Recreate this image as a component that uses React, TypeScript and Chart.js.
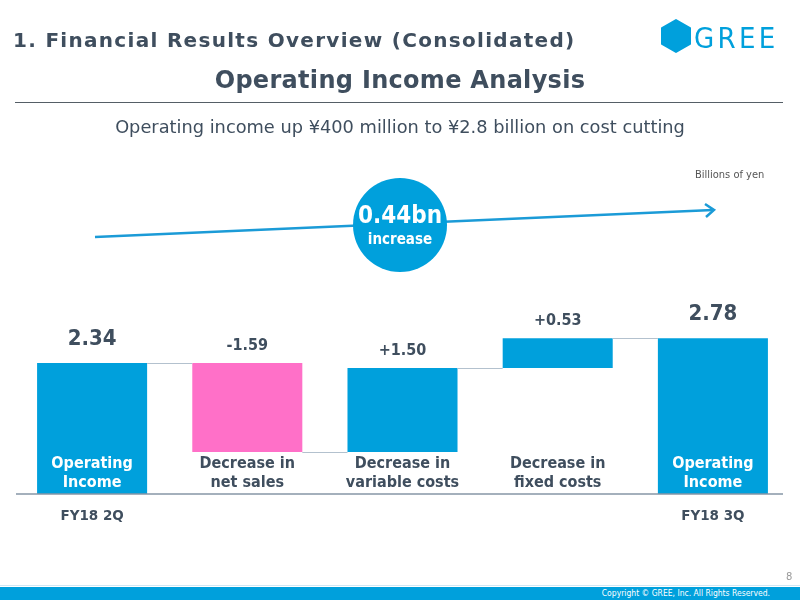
import React, { useEffect, useRef } from "react";
import { Chart, registerables } from "chart.js";

Chart.register(...registerables);

// Waterfall steps, billions of yen
const categories: string[][] = [
  ["Operating", "Income"],
  ["Decrease in", "net sales"],
  ["Decrease in", "variable costs"],
  ["Decrease in", "fixed costs"],
  ["Operating", "Income"],
];
const periods = ["FY18 2Q", "", "", "", "FY18 3Q"];
const openingIncome = 2.34;
const changes = [-1.59, 1.5, 0.53];
const closingIncome = 2.78;
const valueLabels = ["2.34", "-1.59", "+1.50", "+0.53", "2.78"];
const isTotal = [true, false, false, false, true];

const BLUE = "#00a0dc";
const PINK = "#ff70c8";
const TEXT = "#3f4e5e";
const FONT = "'DejaVu Sans', Verdana, sans-serif";
const FONT_C = "'DejaVu Sans Condensed', 'DejaVu Sans', sans-serif";

function buildRanges(): [number, number][] {
  const ranges: [number, number][] = [[0, openingIncome]];
  let level = openingIncome;
  for (const c of changes) {
    const next = Math.round((level + c) * 100) / 100;
    ranges.push([level, next]);
    level = next;
  }
  ranges.push([0, closingIncome]);
  return ranges;
}

const waterfallDecor = {
  id: "waterfallDecor",
  beforeDatasetsDraw(chart: any) {
    const { ctx } = chart;
    // growth arrow with the increase badge
    ctx.save();
    ctx.strokeStyle = "#1b9bd7";
    ctx.lineWidth = 2.5;
    ctx.beginPath();
    ctx.moveTo(95, 237);
    ctx.lineTo(713, 210);
    ctx.stroke();
    ctx.beginPath();
    ctx.moveTo(705, 204);
    ctx.lineTo(714, 210);
    ctx.lineTo(706, 217);
    ctx.stroke();
    ctx.fillStyle = BLUE;
    ctx.beginPath();
    ctx.arc(400, 225, 47, 0, Math.PI * 2);
    ctx.fill();
    ctx.fillStyle = "#ffffff";
    ctx.textAlign = "center";
    ctx.textBaseline = "middle";
    ctx.font = `bold 24px ${FONT_C}`;
    const inc = (closingIncome - openingIncome).toFixed(2);
    ctx.fillText(`${inc}bn`, 400, 217);
    ctx.font = `bold 15px ${FONT_C}`;
    ctx.fillText("increase", 400, 240);
    ctx.restore();
  },
  afterDatasetsDraw(chart: any) {
    const { ctx, scales } = chart;
    const y = scales.y;
    const bars = chart.getDatasetMeta(0).data;
    const ranges = chart.data.datasets[0].data as [number, number][];
    const zero = y.getPixelForValue(0);
    ctx.save();
    // connectors between consecutive steps
    ctx.strokeStyle = "#b3c1ce";
    ctx.lineWidth = 1;
    for (let i = 0; i < bars.length - 1; i++) {
      const py = Math.round(y.getPixelForValue(ranges[i][1])) + 0.5;
      ctx.beginPath();
      ctx.moveTo(bars[i].x + bars[i].width / 2, py);
      ctx.lineTo(bars[i + 1].x - bars[i + 1].width / 2, py);
      ctx.stroke();
    }
    // baseline
    ctx.strokeStyle = "#8696a6";
    ctx.lineWidth = 1.5;
    ctx.beginPath();
    ctx.moveTo(16, zero);
    ctx.lineTo(783, zero);
    ctx.stroke();

    ctx.textAlign = "center";
    ctx.textBaseline = "middle";
    bars.forEach((bar: any, i: number) => {
      const top = Math.min(bar.y, bar.base);
      ctx.fillStyle = TEXT;
      if (isTotal[i]) {
        ctx.font = `bold 22px ${FONT_C}`;
        ctx.fillText(valueLabels[i], bar.x, top - 24);
      } else {
        ctx.font = `bold 16px ${FONT_C}`;
        ctx.fillText(valueLabels[i], bar.x, top - 17);
      }
      ctx.font = `bold 16px ${FONT_C}`;
      ctx.fillStyle = isTotal[i] ? "#ffffff" : TEXT;
      ctx.fillText(categories[i][0], bar.x, zero - 30);
      ctx.fillText(categories[i][1], bar.x, zero - 11);
      if (periods[i]) {
        ctx.fillStyle = TEXT;
        ctx.font = `bold 13.5px ${FONT}`;
        ctx.fillText(periods[i], bar.x, zero + 22);
      }
    });
    ctx.restore();
  },
};

export default function App() {
  const canvasRef = useRef<HTMLCanvasElement | null>(null);

  useEffect(() => {
    const canvas = canvasRef.current;
    if (!canvas) return;
    const ranges = buildRanges();
    const chart = new Chart(canvas, {
      type: "bar",
      data: {
        labels: categories.map((c) => c.join(" ")),
        datasets: [
          {
            data: ranges as any,
            backgroundColor: ranges.map((r) => (r[1] < r[0] ? PINK : BLUE)),
            borderWidth: 0,
            borderSkipped: false,
            categoryPercentage: 1,
            barPercentage: 0.709,
          },
        ],
      },
      options: {
        responsive: false,
        animation: false,
        events: [],
        layout: { padding: { left: 14.5, right: 9.5, top: 298, bottom: 106 } },
        plugins: {
          legend: { display: false },
          tooltip: { enabled: false },
          title: { display: false },
        },
        scales: {
          x: { display: false, grid: { display: false } },
          y: { display: false, min: 0, max: 3.5, grid: { display: false } },
        },
      },
      plugins: [waterfallDecor],
    });
    return () => chart.destroy();
  }, []);

  return (
    <div
      style={{
        position: "fixed",
        left: 0,
        top: 0,
        width: 800,
        height: 600,
        background: "#ffffff",
        fontFamily: FONT,
        color: TEXT,
        overflow: "hidden",
      }}
    >
      <canvas
        ref={canvasRef}
        width={800}
        height={600}
        style={{ position: "absolute", left: 0, top: 0, width: 800, height: 600 }}
      />
      <div
        style={{
          position: "absolute",
          left: 13,
          top: 28,
          fontSize: 20,
          fontWeight: "bold",
          letterSpacing: 1.3,
          whiteSpace: "nowrap",
        }}
      >
        1. Financial Results Overview (Consolidated)
      </div>
      <svg
        style={{ position: "absolute", left: 658, top: 18 }}
        width={125}
        height={36}
        viewBox="0 0 125 36"
      >
        <polygon points="18,2 32,10 32,26 18,34 4,26 4,10" fill={BLUE} stroke={BLUE} strokeWidth={2} strokeLinejoin="round" />
        <text x={36} y={30} fill={BLUE} fontFamily="'DejaVu Sans Condensed', Roboto, sans-serif" fontSize={29} letterSpacing={3.3}>
          GREE
        </text>
      </svg>
      <div
        style={{
          position: "absolute",
          left: 0,
          width: 800,
          top: 66,
          textAlign: "center",
          fontSize: 24,
          fontWeight: "bold",
          letterSpacing: 0.3,
        }}
      >
        Operating Income Analysis
      </div>
      <div style={{ position: "absolute", left: 15, width: 768, top: 102, height: 1, background: "#555e66" }} />
      <div
        style={{
          position: "absolute",
          left: 0,
          width: 800,
          top: 116,
          textAlign: "center",
          fontSize: 17.8,
        }}
      >
        Operating income up ¥400 million to ¥2.8 billion on cost cutting
      </div>
      <div style={{ position: "absolute", left: 695, top: 168, fontSize: 11, color: "#555", fontFamily: FONT_C }}>
        Billions of yen
      </div>
      <div style={{ position: "absolute", left: 786, top: 571, fontSize: 10, color: "#999" }}>8</div>
      <div style={{ position: "absolute", left: 0, width: 800, top: 585, height: 1, background: "#cfe7f4" }} />
      <div style={{ position: "absolute", left: 0, width: 800, top: 587, height: 13, background: BLUE }} />
      <div
        style={{
          position: "absolute",
          right: 30,
          top: 587,
          fontSize: 8.5,
          lineHeight: "13px",
          color: "#ffffff",
          fontFamily: FONT_C,
        }}
      >
        Copyright © GREE, Inc. All Rights Reserved.
      </div>
    </div>
  );
}
